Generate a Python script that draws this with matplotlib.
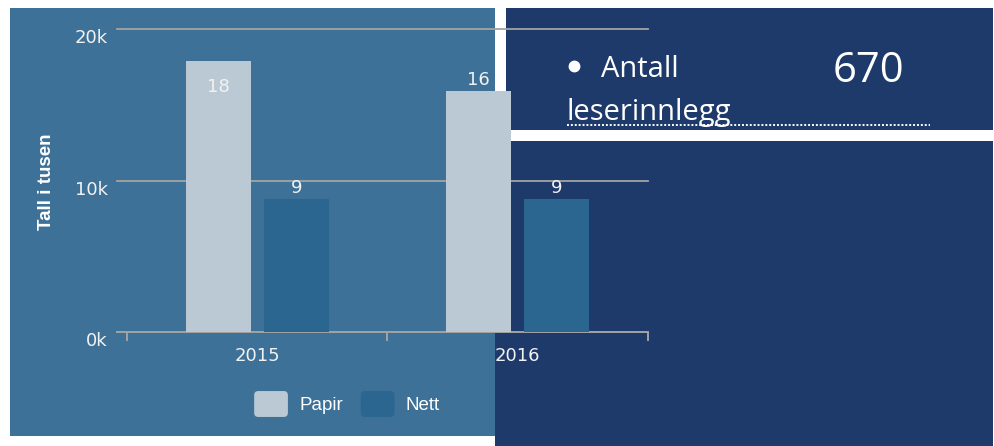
import numpy as np
import matplotlib.pyplot as plt
from matplotlib.patches import Rectangle, FancyBboxPatch
from matplotlib.lines import Line2D
from matplotlib.legend_handler import HandlerPatch
import matplotlib.transforms as mtransforms

# data
years = ["2015", "2016"]
papir = [17900, 15900]
nett = [8800, 8800]
series_names = ["Papir", "Nett"]
y_ticks = [0, 10000, 20000]
y_tick_labels = ["0k", "10k", "20k"]
y_title = "Tall i tusen"
info_label = ["Antall", "leserinnlegg"]
info_value = "670"

W, H = 995, 446
chart_bg = "#3e7198"
navy = "#1e3a6b"
papir_color = "#bac9d3"
nett_color = "#2a6690"
grid_color = "#a3a3a3"
text_color = "#f2f2f2"


def fx(px):
    return px / W


def fy(py):
    return 1 - py / H


def panel(fig, x0, y0, x1, y1, color):
    fig.patches.append(Rectangle((fx(x0), fy(y1)), fx(x1 - x0), (y1 - y0) / H,
                                 transform=fig.transFigure, color=color,
                                 zorder=-5, linewidth=0))


class RoundHandler(HandlerPatch):
    # legend swatches with rounded corners
    def create_artists(self, legend, orig_handle, xdescent, ydescent, width, height,
                       fontsize, trans):
        p = FancyBboxPatch((-xdescent, -ydescent), width, height,
                           boxstyle="round,pad=0,rounding_size=3",
                           facecolor=orig_handle.get_facecolor(), linewidth=0,
                           transform=trans)
        return [p]


fig = plt.figure(figsize=(W / 100, H / 100), dpi=100)
fig.patch.set_facecolor("white")

# backgrounds: chart panel and the slide blocks over it
panel(fig, 10, 8, 495, 436, chart_bg)
panel(fig, 495, 141, 993, 446, navy)
panel(fig, 506, 8, 993, 130, navy)

ax = fig.add_axes([fx(117), fy(332), fx(648 - 117), (332 - 29) / H])
ax.patch.set_visible(False)
ax.set_zorder(2)

x = np.arange(len(years))
offset = 0.15
width = 0.25
bars_p = ax.bar(x - offset, papir, width, color=papir_color, label=series_names[0], zorder=3)
bars_n = ax.bar(x + offset, nett, width, color=nett_color, label=series_names[1], zorder=3)

ymax = 20000
for bars in (bars_p, bars_n):
    for b in bars:
        v = b.get_height()
        if v > 0.85 * ymax:
            dy = -18.5
        else:
            dy = 8
        ax.annotate(f"{round(v / 1000)}", (b.get_x() + b.get_width() / 2, v),
                    xytext=(0, dy), textcoords="offset points", ha="center", va="center",
                    color=text_color, fontsize=13, family="DejaVu Sans", zorder=4)

ax.set_xlim(-0.5 - 10 / 260.5, 1.5)
ax.set_ylim(0, ymax)

# gridlines
for t in y_ticks[1:]:
    ax.axhline(t, color=grid_color, lw=1.3, zorder=1, clip_on=False)

for s in ["top", "right", "left"]:
    ax.spines[s].set_visible(False)
ax.spines["bottom"].set_color(grid_color)
ax.spines["bottom"].set_linewidth(1.4)

ax.set_yticks(y_ticks)
ax.set_yticklabels(y_tick_labels, color=text_color, fontsize=13, family="DejaVu Sans")
ax.tick_params(axis="y", length=0, pad=6.5)
shift = mtransforms.ScaledTranslation(0, -7 / 100, fig.dpi_scale_trans)
for lab in ax.get_yticklabels():
    lab.set_transform(lab.get_transform() + shift)

ax.set_xticks([-0.5, 0.5, 1.5])
ax.set_xticklabels([])
ax.tick_params(axis="x", which="major", length=6.5, width=1.4, color=grid_color)
ax.set_xticks(x, minor=True)
ax.set_xticklabels(years, minor=True, color=text_color, fontsize=13, family="DejaVu Sans")
ax.tick_params(axis="x", which="minor", length=0, pad=10.5)

fig.text(fx(47), fy(182), y_title, rotation=90, ha="center", va="center",
         color="white", fontsize=13.5, fontweight="bold", family="Liberation Sans")

leg = fig.legend(handles=[bars_p.patches[0], bars_n.patches[0]], labels=series_names,
                 loc="center", bbox_to_anchor=(fx(347), fy(404)), ncol=2, frameon=False,
                 prop={"family": "Liberation Sans", "size": 13.5},
                 handlelength=1.8, handleheight=1.75, handletextpad=0.6,
                 columnspacing=0.95, labelcolor="white",
                 handler_map={Rectangle: RoundHandler()})

# slide text on the navy block
fig.lines.append(Line2D([fx(574)], [fy(66)], transform=fig.transFigure, marker="o",
                        markersize=7.5, color="white", linestyle="none"))
fig.text(fx(601), fy(77), info_label[0], ha="left", va="baseline", color="white",
         fontsize=21, family="Open Sans")
fig.text(fx(833), fy(82), info_value, ha="left", va="baseline", color="white",
         fontsize=30, family="Open Sans")
fig.text(fx(567), fy(120), info_label[1], ha="left", va="baseline", color="white",
         fontsize=21, family="Open Sans")
fig.lines.append(Line2D([fx(567), fx(930)], [fy(124.5), fy(124.5)], transform=fig.transFigure,
                        color="white", lw=1.4, linestyle=(0, (1, 1))))

fig.savefig("out.png", dpi=100)
